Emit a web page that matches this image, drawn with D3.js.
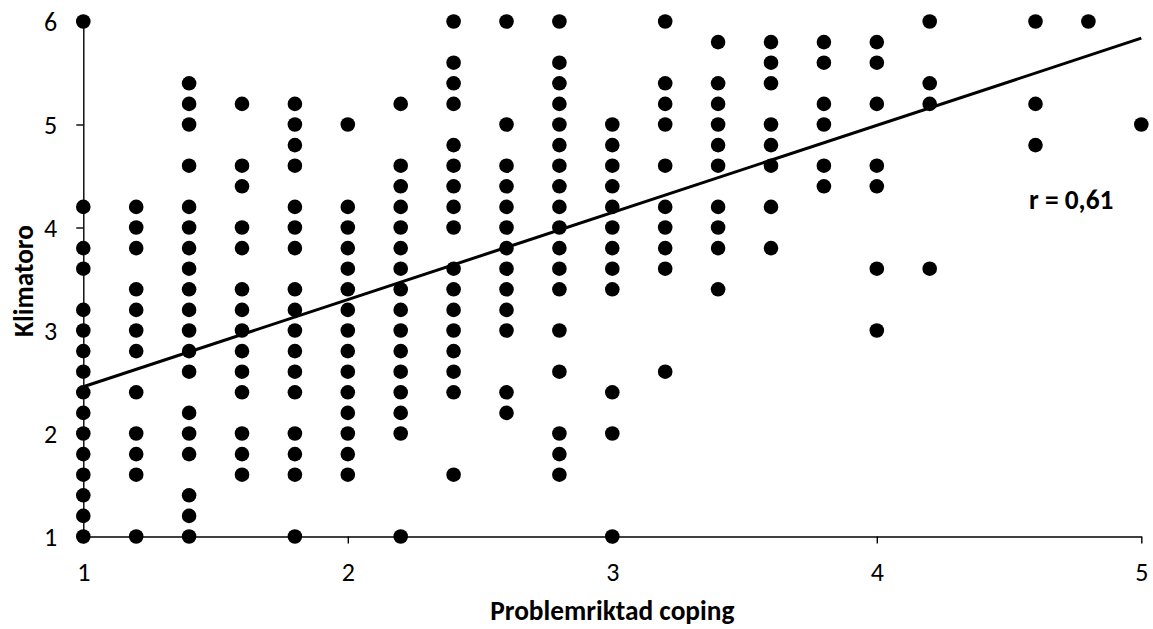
<!DOCTYPE html>
<html>
<head>
<meta charset="utf-8">
<script src="https://cdn.jsdelivr.net/npm/d3@7"></script>
<style>
  html, body { margin: 0; padding: 0; background: #fff; }
  svg { display: block; }
</style>
</head>
<body>
<svg id="chart" width="1153" height="629"></svg>
<script>
// ---- data ----
const columnX = [1.0, 1.2, 1.4, 1.6, 1.8, 2.0, 2.2, 2.4, 2.6, 2.8, 3.0, 3.2, 3.4, 3.6, 3.8, 4.0, 4.2, 4.6, 4.8, 5.0];
const columnY = [
  [6, 4.2, 3.8, 3.6, 3.2, 3.0, 2.8, 2.6, 2.4, 2.2, 2.0, 1.8, 1.6, 1.4, 1.2, 1.0],
  [4.2, 4.0, 3.8, 3.4, 3.2, 3.0, 2.8, 2.4, 2.0, 1.8, 1.6, 1.0],
  [5.4, 5.2, 5.0, 4.6, 4.2, 4.0, 3.8, 3.6, 3.4, 3.2, 3.0, 2.8, 2.6, 2.2, 2.0, 1.8, 1.4, 1.2, 1.0],
  [5.2, 4.6, 4.4, 4.0, 3.8, 3.4, 3.2, 3.0, 2.8, 2.6, 2.4, 2.0, 1.8, 1.6],
  [5.2, 5.0, 4.8, 4.6, 4.2, 4.0, 3.8, 3.4, 3.2, 3.0, 2.8, 2.6, 2.4, 2.0, 1.8, 1.6, 1.0],
  [5.0, 4.2, 4.0, 3.8, 3.6, 3.4, 3.2, 3.0, 2.8, 2.6, 2.4, 2.2, 2.0, 1.8, 1.6],
  [5.2, 4.6, 4.4, 4.2, 4.0, 3.8, 3.6, 3.4, 3.2, 3.0, 2.8, 2.6, 2.4, 2.2, 2.0, 1.0],
  [6, 5.6, 5.4, 5.2, 4.8, 4.6, 4.4, 4.2, 4.0, 3.6, 3.4, 3.2, 3.0, 2.8, 2.6, 2.4, 1.6],
  [6, 5.0, 4.6, 4.4, 4.2, 4.0, 3.8, 3.6, 3.4, 3.2, 3.0, 2.4, 2.2],
  [6, 5.6, 5.4, 5.2, 5.0, 4.8, 4.6, 4.4, 4.2, 4.0, 3.8, 3.6, 3.4, 3.0, 2.6, 2.0, 1.8, 1.6],
  [5.0, 4.8, 4.6, 4.4, 4.2, 4.0, 3.8, 3.6, 3.4, 2.4, 2.0, 1.0],
  [6, 5.4, 5.2, 5.0, 4.6, 4.2, 4.0, 3.8, 3.6, 2.6],
  [5.8, 5.4, 5.2, 5.0, 4.8, 4.6, 4.2, 4.0, 3.8, 3.4],
  [5.8, 5.6, 5.4, 5.0, 4.8, 4.6, 4.2, 3.8],
  [5.8, 5.6, 5.2, 5.0, 4.6, 4.4],
  [5.8, 5.6, 5.2, 4.6, 4.4, 3.6, 3.0],
  [6, 5.4, 5.2, 3.6],
  [6, 5.2, 4.8],
  [6],
  [5.0]
];
const xTicks = [1, 2, 3, 4, 5];
const yTicks = [1, 2, 3, 4, 5, 6];
const trendIntercept = 1.608;
const trendSlope = 0.846;
const trendX = [1, 5];
const xTitle = "Problemriktad coping";
const yTitle = "Klimatoro";
const rLabel = "r = 0,61";

// ---- layout ----
const FONT = "Carlito, Lato, 'Open Sans', sans-serif";
const TICK_FONT = "26px " + FONT;
const svg = d3.select("#chart");
const x = d3.scaleLinear().domain([1, 5]).range([83.3, 1141.3]);
const y = d3.scaleLinear().domain([1, 6]).range([536.5, 21.5]);

const points = [];
columnX.forEach((cx, i) => columnY[i].forEach(v => points.push({x: cx, y: v})));

// axes
const gx = svg.append("g").attr("transform", `translate(0,${y(1)})`)
  .call(d3.axisBottom(x).tickValues(xTicks).tickSize(7).tickSizeOuter(0).tickFormat(d3.format("d")));
const gy = svg.append("g").attr("transform", `translate(${x(1)},0)`)
  .call(d3.axisLeft(y).tickValues(yTicks).tickSize(7).tickSizeOuter(0).tickFormat(d3.format("d")));

[gx, gy].forEach(g => {
  g.attr("font-size", null).attr("font-family", null);
  g.select(".domain").attr("stroke", "#000").attr("stroke-width", 1.4);
  g.selectAll(".tick line").attr("stroke", "#000").attr("stroke-width", 1.4);
  g.selectAll(".tick text").style("font", TICK_FONT).attr("fill", "#000");
});
gx.selectAll(".tick text").attr("y", 0).attr("dy", 0).attr("transform", "translate(0,44)");
gy.selectAll(".tick text").attr("x", -26).attr("dy", "0.34em");

// dots
svg.append("g").selectAll("circle").data(points).join("circle")
  .attr("cx", d => x(d.x)).attr("cy", d => y(d.y)).attr("r", 7.3).attr("fill", "#000");

// trend line
svg.append("line")
  .attr("x1", x(trendX[0])).attr("y1", y(trendIntercept + trendSlope * trendX[0]))
  .attr("x2", x(trendX[1])).attr("y2", y(trendIntercept + trendSlope * trendX[1]))
  .attr("stroke", "#000").attr("stroke-width", 3);

// titles: shared bold size, fitted on the y title length
const ty = svg.append("text").attr("transform", "translate(33,281) rotate(-90)").attr("text-anchor", "middle")
  .style("font-family", FONT).style("font-weight", "bold").style("font-size", "20px").text(yTitle);
const titleSize = 20 * 112 / ty.node().getComputedTextLength();
ty.style("font-size", titleSize + "px");

svg.append("text").attr("x", 612.3).attr("y", 620).attr("text-anchor", "middle")
  .style("font-family", FONT).style("font-weight", "bold").style("font-size", titleSize + "px").text(xTitle);

svg.append("text").attr("x", 1029).attr("y", 209).attr("text-anchor", "start")
  .style("font-family", FONT).style("font-weight", "bold").style("font-size", titleSize + "px").text(rLabel);
</script>
</body>
</html>
